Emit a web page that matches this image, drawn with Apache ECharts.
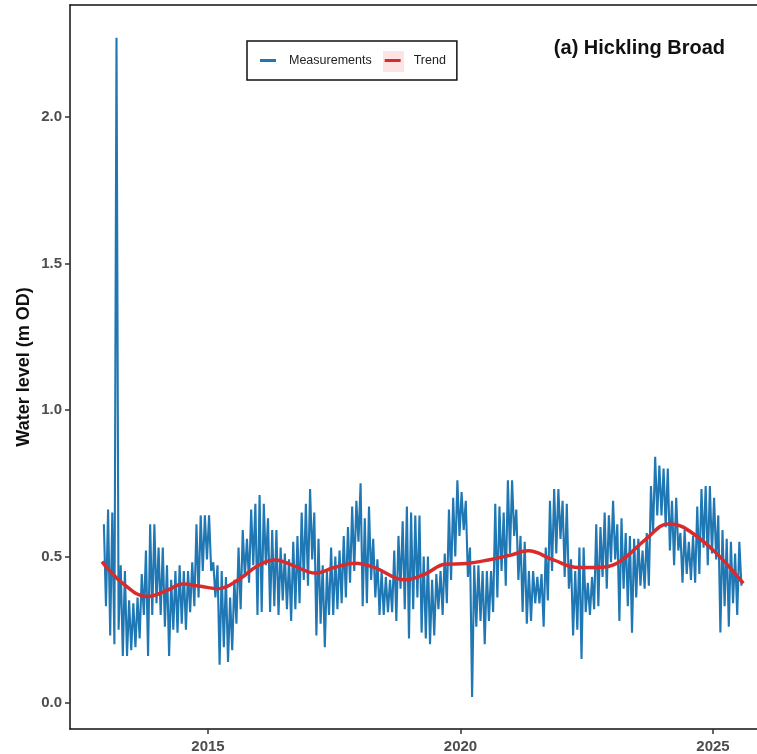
<!DOCTYPE html>
<head>
    <meta charset="utf-8">
    <title>Hickling Broad</title>
</head>
<body style="margin:0;background:#fff">
    <script src="https://cdn.jsdelivr.net/npm/echarts@6/dist/echarts.min.js"></script>
    <div id="main" style="width:757px;height:754px"></div>
    <script type="text/javascript">
    // monthly highest / lowest readings (m OD), first month = Dec 2012
    var measStart = 2012.917;
    var measHigh = [
        0.61, 0.66, 0.65, 2.27, 0.47, 0.45, 0.35, 0.34, 0.36, 0.44, 0.52, 0.61,
        0.61, 0.53, 0.53, 0.47, 0.42, 0.45, 0.47, 0.45, 0.45, 0.48, 0.61, 0.64,
        0.64, 0.64, 0.48, 0.47, 0.45, 0.43, 0.36, 0.42, 0.53, 0.59, 0.56, 0.66,
        0.68, 0.71, 0.68, 0.63, 0.59, 0.59, 0.53, 0.51, 0.49, 0.55, 0.57, 0.65,
        0.68, 0.73, 0.65, 0.56, 0.47, 0.45, 0.53, 0.50, 0.52, 0.57, 0.60, 0.67,
        0.69, 0.75, 0.63, 0.67, 0.56, 0.49, 0.45, 0.43, 0.42, 0.52, 0.57, 0.62,
        0.67, 0.65, 0.64, 0.64, 0.50, 0.50, 0.42, 0.44, 0.45, 0.51, 0.66, 0.70,
        0.76, 0.72, 0.69, 0.53, 0.47, 0.47, 0.45, 0.45, 0.45, 0.68, 0.67, 0.65,
        0.76, 0.76, 0.66, 0.57, 0.55, 0.45, 0.45, 0.43, 0.44, 0.53, 0.69, 0.73,
        0.73, 0.69, 0.68, 0.49, 0.45, 0.53, 0.53, 0.41, 0.43, 0.61, 0.60, 0.65,
        0.64, 0.69, 0.61, 0.63, 0.58, 0.57, 0.56, 0.56, 0.52, 0.58, 0.74, 0.84,
        0.81, 0.80, 0.80, 0.69, 0.70, 0.58, 0.59, 0.55, 0.57, 0.67, 0.73, 0.74,
        0.74, 0.70, 0.64, 0.59, 0.56, 0.55, 0.51, 0.55
    ];
    var measLow = [
        0.33, 0.23, 0.20, 0.25, 0.16, 0.16, 0.18, 0.19, 0.22, 0.30, 0.16, 0.30,
        0.34, 0.30, 0.26, 0.16, 0.25, 0.24, 0.27, 0.25, 0.31, 0.33, 0.36, 0.45,
        0.49, 0.45, 0.36, 0.13, 0.19, 0.14, 0.18, 0.27, 0.32, 0.43, 0.41, 0.47,
        0.30, 0.31, 0.47, 0.31, 0.33, 0.30, 0.35, 0.32, 0.28, 0.32, 0.34, 0.42,
        0.40, 0.49, 0.23, 0.27, 0.19, 0.30, 0.30, 0.32, 0.34, 0.36, 0.41, 0.45,
        0.55, 0.33, 0.34, 0.42, 0.36, 0.30, 0.30, 0.31, 0.31, 0.28, 0.39, 0.32,
        0.22, 0.32, 0.36, 0.24, 0.22, 0.20, 0.23, 0.32, 0.30, 0.34, 0.42, 0.50,
        0.57, 0.59, 0.43, 0.02, 0.26, 0.28, 0.20, 0.28, 0.31, 0.36, 0.45, 0.40,
        0.51, 0.57, 0.42, 0.31, 0.27, 0.28, 0.34, 0.34, 0.26, 0.35, 0.45, 0.51,
        0.56, 0.43, 0.39, 0.23, 0.25, 0.15, 0.31, 0.30, 0.32, 0.33, 0.43, 0.39,
        0.48, 0.49, 0.28, 0.39, 0.33, 0.24, 0.36, 0.40, 0.39, 0.40, 0.58, 0.64,
        0.64, 0.60, 0.52, 0.47, 0.52, 0.41, 0.44, 0.42, 0.41, 0.44, 0.53, 0.47,
        0.51, 0.49, 0.24, 0.33, 0.26, 0.34, 0.30, 0.40
    ];
    // smoothed trend
    var trendYears = [2012.90, 2013.30, 2013.80, 2014.20, 2014.50, 2014.85, 2015.20, 2015.60,
        2016.00, 2016.33, 2016.70, 2017.12, 2017.50, 2017.91, 2018.30, 2018.90, 2019.30,
        2019.69, 2020.12, 2020.55, 2021.00, 2021.34, 2021.84, 2022.33, 2022.80, 2023.03,
        2023.29, 2023.69, 2024.11, 2024.41, 2025.00, 2025.60];
    var trendLevels = [0.482, 0.410, 0.363, 0.385, 0.406, 0.398, 0.390, 0.420,
        0.470, 0.488, 0.468, 0.443, 0.462, 0.477, 0.462, 0.420, 0.440,
        0.473, 0.476, 0.488, 0.505, 0.519, 0.488, 0.462, 0.463, 0.471,
        0.500, 0.562, 0.611, 0.600, 0.522, 0.408];
    var yearTicks = [2015, 2020, 2025];
    var levelTicks = [0, 0.5, 1, 1.5, 2];

    var measData = [];
    for (var k = 0; k < measHigh.length; k++) {
        measData.push([measStart + (k + 0.25) / 12, measHigh[k]]);
        measData.push([measStart + (k + 0.75) / 12, measLow[k]]);
    }
    var trendData = trendYears.map(function (y, i) { return [y, trendLevels[i]]; });

    var tickFont = { color: '#4d4d4d', fontSize: 15, fontWeight: 'bold', fontFamily: 'Liberation Sans, Arial' };

    var myChart = echarts.init(document.getElementById('main'));
    myChart.setOption({
        animation: false,
        backgroundColor: '#fff',
        title: {
            text: '(a) Hickling Broad',
            right: 27, top: 33,
            textStyle: { fontSize: 20, fontWeight: 'bold', color: '#111', fontFamily: 'Liberation Sans, Arial' }
        },
        graphic: [{
            type: 'rect', z: 0,
            shape: { x: 383, y: 51, width: 21, height: 21 },
            style: { fill: '#fde4e4' }
        }],
        legend: {
            left: 247, top: 41,
            padding: [13, 11, 13, 13],
            itemGap: 13,
            itemWidth: 16, itemHeight: 3,
            borderColor: '#111', borderWidth: 1.5,
            textStyle: { fontSize: 12.5, color: '#222', fontFamily: 'Liberation Sans, Arial', padding: [0, 0, 0, 8] },
            data: [{ name: 'Measurements', icon: 'rect' }, { name: 'Trend', icon: 'rect' }]
        },
        grid: { left: 70, right: 0, top: 5, bottom: 25 },
        xAxis: [{
            type: 'value',
            min: 2012.267, max: 2025.871,
            splitLine: { show: false },
            axisLine: { onZero: false, lineStyle: { color: '#111', width: 1.5 } },
            axisTick: { length: 5, customValues: yearTicks, lineStyle: { color: '#333', width: 1.5 } },
            axisLabel: Object.assign({ margin: 10, customValues: yearTicks, formatter: function (v) { return String(v); } }, tickFont)
        }, {
            type: 'value', position: 'top',
            min: 2012.267, max: 2025.871,
            splitLine: { show: false },
            axisLine: { show: true, onZero: false, lineStyle: { color: '#111', width: 1.5 } },
            axisTick: { show: false },
            axisLabel: { show: false }
        }],
        yAxis: {
            type: 'value',
            min: -0.089, max: 2.382,
            name: 'Water level (m OD)',
            nameLocation: 'middle',
            nameGap: 37,
            nameMoveOverlap: false,
            nameTextStyle: { fontSize: 18, fontWeight: 'bold', color: '#111', fontFamily: 'Liberation Sans, Arial' },
            splitLine: { show: false },
            axisLine: { show: true, onZero: false, lineStyle: { color: '#111', width: 1.5 } },
            axisTick: { show: true, length: 5, customValues: levelTicks, lineStyle: { color: '#333', width: 1.5 } },
            axisLabel: Object.assign({ margin: 8, customValues: levelTicks, formatter: function (v) { return v.toFixed(1); } }, tickFont)
        },
        series: [{
            name: 'Measurements',
            type: 'line',
            showSymbol: false,
            color: '#1f77b4',
            lineStyle: { width: 2.1 },
            data: measData,
            z: 2
        }, {
            name: 'Trend',
            type: 'line',
            showSymbol: false,
            smooth: 0.4,
            color: '#d92b2b',
            lineStyle: { width: 3.5 },
            data: trendData,
            z: 3
        }]
    });
    </script>
</body>
